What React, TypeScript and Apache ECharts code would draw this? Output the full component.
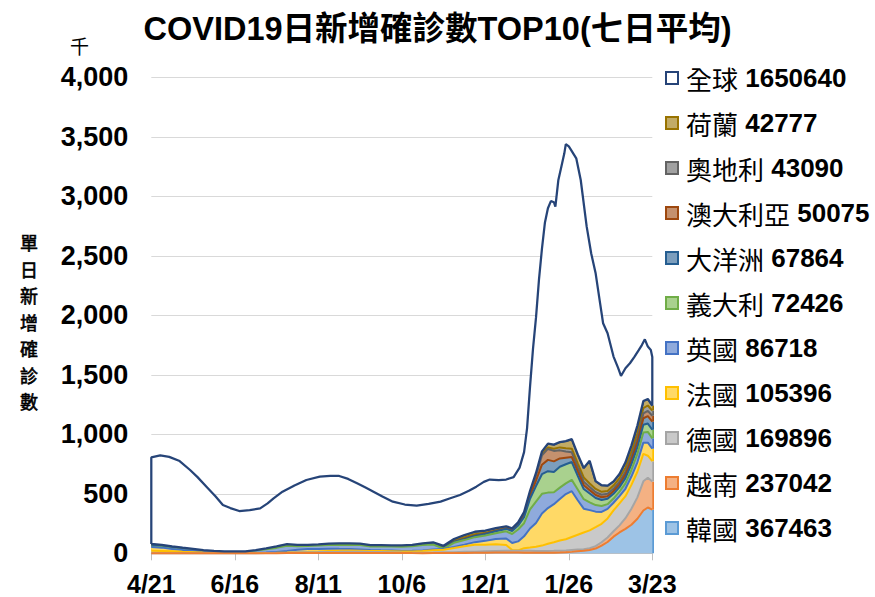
import React, { useEffect, useRef } from 'react';
import * as echarts from 'echarts';

// ---------- texts ----------
const TITLE = 'COVID19日新增確診數TOP10(七日平均)';
const Y_NAME = '單日新增確診數';
const UNIT = '千';
const xTickLabels = ['4/21', '6/16', '8/11', '10/6', '12/1', '1/26', '3/23'];
const TICK_STEP = 56; // days between x tick labels
const SPAN = 336; // days from 4/21 to 3/23

// ---------- stacked layers (thousands), sampled at these day offsets from 4/21 ----------
const days = [0, 7, 14, 21, 28, 35, 42, 49, 56, 63, 70, 77, 84, 91, 98, 105, 112, 119, 126, 133, 140, 147, 154, 161, 168, 175, 182, 189, 196, 203, 210, 217, 224, 231, 238, 242, 246, 250, 254, 258, 262, 266, 270, 274, 278, 282, 286, 290, 294, 298, 302, 306, 310, 314, 318, 322, 326, 330, 333, 336];

const korea = [0.65, 0.67, 0.6, 0.6, 0.6, 0.55, 0.6, 0.55, 0.5, 0.55, 0.7, 1.0, 1.3, 1.5, 1.6, 1.6, 1.8, 1.8, 1.7, 1.7, 1.9, 1.9, 2.2, 2.6, 2.3, 1.6, 1.2, 1.7, 2.1, 2.3, 3.0, 3.8, 4.5, 6.0, 7.0, 6.5, 6.0, 5.0, 4.5, 4.0, 3.8, 4.0, 4.5, 6.0, 8.0, 12, 17, 22, 28, 40, 65, 95, 140, 175, 205, 240, 290, 360, 385, 367];
const vietnam = [0, 0, 0, 0.05, 0.1, 0.15, 0.3, 0.3, 0.2, 0.25, 0.5, 1.0, 2.0, 4.0, 6.5, 8.0, 8.5, 10, 11, 12, 11, 10, 9, 7, 4.5, 3.5, 3.5, 4.5, 6, 7.5, 9, 10, 13, 14, 15, 15.5, 16, 16, 16, 16, 16, 16, 16, 16, 15, 15, 14, 13, 15, 20, 28, 38, 45, 60, 90, 135, 180, 245, 250, 237];
const germany = [20, 19, 16, 12, 9, 5.5, 3.5, 2.2, 1.2, 0.8, 0.7, 0.8, 1.2, 1.5, 2, 2.8, 4.5, 7, 9, 10, 9, 8, 7.5, 8, 9, 11, 15, 20, 22, 35, 48, 58, 55, 56, 48, 5, 3, 22, 28, 35, 45, 60, 72, 85, 95, 110, 125, 140, 150, 160, 155, 160, 175, 185, 185, 200, 215, 230, 185, 170];
const france = [32, 28, 20, 16, 13, 9, 6, 3.8, 3, 2.2, 2.2, 3.3, 6, 12, 20, 23, 22, 20, 16, 13, 10, 7, 6, 5, 4.5, 4.5, 4.7, 5.5, 6.5, 8.5, 13, 22, 32, 45, 55, 60, 75, 100, 160, 200, 270, 300, 320, 350, 380, 385, 290, 200, 170, 130, 100, 80, 65, 60, 62, 70, 80, 95, 110, 105];
const uk = [2.5, 2.2, 2.2, 2.2, 2.4, 2.8, 3.8, 6, 8.5, 11, 20, 28, 35, 45, 30, 26, 28, 31, 33, 35, 38, 30, 33, 34, 34, 38, 45, 42, 3, 35, 38, 42, 45, 48, 60, 75, 100, 110, 160, 180, 165, 130, 100, 95, 90, 95, 90, 80, 65, 55, 50, 40, 35, 38, 45, 55, 70, 85, 90, 87];
const italy = [13.5, 12, 10.5, 8.5, 6, 4, 2.5, 1.8, 1.2, 0.9, 0.9, 1.2, 2.5, 4, 5, 5.5, 6, 6.5, 6.5, 6, 5, 4, 3.5, 3.2, 2.8, 2.7, 2.8, 4, 5, 6, 8, 10, 13, 16, 20, 25, 33, 50, 90, 130, 165, 180, 170, 175, 160, 150, 115, 85, 75, 60, 50, 45, 40, 38, 45, 50, 55, 65, 70, 72];
const oceania = [0.03, 0.03, 0.03, 0.03, 0.03, 0.03, 0.03, 0.03, 0.03, 0.1, 0.3, 0.5, 0.7, 0.8, 1.0, 1.2, 1.3, 1.5, 1.6, 1.8, 2.0, 2.1, 2.2, 2.4, 2.5, 2.6, 2.4, 2.0, 1.8, 1.4, 1.4, 1.4, 1.6, 1.8, 2.2, 3.5, 6, 15, 25, 45, 80, 95, 90, 70, 55, 42, 37, 32, 28, 25, 23, 22, 22, 24, 28, 33, 42, 55, 62, 68];
const australia = [0.01, 0.01, 0.01, 0.01, 0.01, 0.01, 0.01, 0.01, 0.02, 0.02, 0.03, 0.05, 0.1, 0.15, 0.2, 0.3, 0.4, 0.6, 0.9, 1.2, 1.6, 1.8, 1.9, 2.1, 2.2, 2.3, 2.2, 1.8, 1.6, 1.2, 1.2, 1.2, 1.4, 1.5, 2.0, 3.2, 5.5, 14, 24, 43, 78, 92, 88, 68, 52, 40, 35, 30, 26, 23, 21, 20, 20, 22, 25, 29, 33, 40, 45, 50];
const austria = [2.5, 2.1, 1.8, 1.3, 0.9, 0.6, 0.4, 0.2, 0.1, 0.08, 0.08, 0.1, 0.15, 0.2, 0.3, 0.5, 0.7, 0.9, 1.0, 1.3, 1.5, 1.4, 1.2, 1.2, 1.5, 2.0, 3.0, 4.5, 6.5, 10, 13, 12, 8, 4.5, 3.0, 2.8, 2.5, 3, 4, 6, 9, 12, 18, 25, 28, 30, 33, 35, 30, 28, 25, 24, 27, 30, 35, 40, 43, 45, 45, 43];
const netherlands = [7.5, 7.7, 7.3, 6.5, 5, 3.5, 2.5, 1.5, 0.9, 0.6, 1.5, 6, 9.5, 7.5, 4, 2.5, 2, 2, 2, 2, 2, 2, 2, 2, 2.3, 3, 4.5, 6.5, 9, 13, 19, 21, 18, 18, 15, 14, 13, 12, 14, 16, 25, 33, 35, 45, 60, 80, 75, 80, 190, 65, 55, 45, 35, 35, 45, 55, 65, 60, 55, 43];

// ---------- global (thousands) ----------
const globalDays = [0, 3, 6, 12, 19, 26, 31, 37, 43, 48, 53, 59, 66, 73, 78, 82, 88, 96, 104, 113, 120, 126, 132, 138, 144, 149, 155, 162, 170, 178, 186, 194, 200, 207, 213, 218, 223, 227, 233, 238, 243, 247, 250, 252, 254, 256, 258, 260, 262, 264, 266, 268, 270, 271, 273, 275, 277, 278, 280, 282, 285, 288, 292, 295, 298, 301, 303, 306, 310, 313, 315, 318, 321, 324, 327, 329, 331, 333, 335, 336];
const globalValues = [806, 815, 823, 810, 775, 700, 640, 560, 480, 406, 380, 355, 362, 378, 420, 462, 518, 570, 616, 644, 650, 650, 625, 588, 550, 518, 478, 434, 410, 400, 415, 434, 460, 490, 525, 560, 600, 620, 615, 620, 640, 720, 850, 1050, 1400, 1720, 1980, 2300, 2560, 2780, 2900, 2960, 2950, 2913, 3137, 3249, 3361, 3439, 3420, 3380, 3319, 3137, 2745, 2521, 2353, 2100, 1933, 1849, 1653, 1560, 1490, 1555, 1597, 1650, 1709, 1750, 1798, 1737, 1709, 1650];

// ---------- legend ----------
const layerNames = ['韓國', '越南', '德國', '法國', '英國', '義大利', '大洋洲', '澳大利亞', '奧地利', '荷蘭']; // bottom -> top
const legendNames = ['全球', '荷蘭', '奧地利', '澳大利亞', '大洋洲', '義大利', '英國', '法國', '德國', '越南', '韓國'];
const legendValues = ['1650640', '42777', '43090', '50075', '67864', '72426', '86718', '105396', '169896', '237042', '367463'];

// ---------- styles ----------
const layerLine = ['#5b9bd5', '#ed7d31', '#a5a5a5', '#ffc000', '#4472c4', '#70ad47', '#255e91', '#9e480e', '#636363', '#997300'];
const layerFill = ['#9dc3e6', '#f4b183', '#c9c9c9', '#ffd966', '#8faadc', '#a9d18e', '#7c9ebd', '#c5916e', '#a1a1a1', '#c2ab66'];
const GLOBAL_LINE = '#264478';
const LATIN = '"Liberation Sans", Arial, "Noto Sans CJK TC", sans-serif';
const CJK = '"Noto Sans CJK TC", "Liberation Sans", sans-serif';

const DAY_MS = 86400000;
const START = Date.UTC(2021, 3, 21);
const END = START + SPAN * DAY_MS;

function buildOption() {
  const layers = [korea, vietnam, germany, france, uk, italy, oceania, australia, austria, netherlands];
  const cumulative: number[][] = [];
  let running = days.map(() => 0);
  layers.forEach((arr) => {
    running = running.map((v, j) => v + arr[j]);
    cumulative.push(running);
  });
  const stackTop = cumulative[cumulative.length - 1];
  const last = days.length - 1;

  const areaSeries = layers.map((arr, i) => {
    const below0 = i === 0 ? 0 : cumulative[i - 1][0];
    const belowN = i === 0 ? 0 : cumulative[i - 1][last];
    return {
      name: layerNames[i],
      type: 'line',
      stack: 'total',
      xAxisIndex: 0,
      yAxisIndex: 0,
      data: days.map((d, j) => [START + d * DAY_MS, arr[j]]),
      symbol: 'none',
      showSymbol: false,
      clip: false,
      silent: true,
      z: 20 - i,
      itemStyle: { color: layerLine[i] },
      lineStyle: { color: i < layers.length - 1 ? layerLine[i + 1] : GLOBAL_LINE, width: 2 },
      areaStyle: { color: layerFill[i], opacity: 1 },
      markLine: {
        silent: true,
        symbol: ['none', 'none'],
        label: { show: false },
        animation: false,
        lineStyle: { color: layerLine[i], width: 2, type: 'solid' },
        data: [
          [{ coord: [START, below0] }, { coord: [START, cumulative[i][0]] }],
          [{ coord: [END, belowN] }, { coord: [END, cumulative[i][last]] }],
        ],
      },
    };
  });

  const globalPath: number[][] = [
    [0, stackTop[0]],
    ...globalDays.map((d, i) => [d, globalValues[i]]),
    ...days.map((d, j) => [d, stackTop[j]]).reverse(),
  ];

  const globalSeries = {
    name: '全球',
    type: 'line',
    xAxisIndex: 1,
    yAxisIndex: 0,
    data: globalPath,
    symbol: 'none',
    showSymbol: false,
    clip: false,
    silent: true,
    z: 30,
    itemStyle: { color: GLOBAL_LINE },
    lineStyle: { color: GLOBAL_LINE, width: 2.25 },
    areaStyle: { color: '#ffffff', opacity: 1 },
  };

  const legendFill = ['#ffffff', ...layerFill.slice().reverse()];
  const legendBorder = [GLOBAL_LINE, ...layerLine.slice().reverse()];

  return {
    animation: false,
    backgroundColor: '#ffffff',
    title: [
      {
        text: TITLE,
        left: 'center',
        top: 8,
        textStyle: { fontSize: 32.5, fontWeight: 'bold', color: '#000', fontFamily: LATIN },
      },
      {
        text: Y_NAME.split('').join('\n'),
        left: 15,
        top: 224,
        textStyle: {
          fontSize: 18,
          lineHeight: 26.5,
          fontWeight: 'normal',
          color: '#000',
          fontFamily: CJK,
          textBorderColor: '#000',
          textBorderWidth: 0.6,
        },
      },
      {
        text: UNIT,
        left: 65,
        top: 31,
        textStyle: { fontSize: 19, fontWeight: 'normal', color: '#000', fontFamily: CJK },
      },
    ],
    legend: {
      orient: 'vertical',
      left: 660,
      top: 60,
      itemWidth: 12,
      itemHeight: 12,
      itemGap: 19,
      icon: 'rect',
      selectedMode: false,
      data: legendNames.map((n, i) => ({
        name: n,
        itemStyle: { color: legendFill[i], borderColor: legendBorder[i], borderWidth: 2 },
      })),
      formatter: (name: string) => {
        const i = legendNames.indexOf(name);
        return `{a|${name}} {b|${legendValues[i]}}`;
      },
      textStyle: {
        color: '#000',
        fontSize: 26,
        rich: {
          a: { fontSize: 26, fontFamily: CJK, color: '#000', padding: [0, 0, 0, 3] },
          b: { fontSize: 26, fontFamily: LATIN, fontWeight: 'bold', color: '#000' },
        },
      },
    },
    grid: { left: 151.3, right: 222.7, top: 77.3, bottom: 43.7, outerBoundsMode: 'none' },
    xAxis: [
      { type: 'time', min: START, max: END, show: false },
      {
        type: 'value',
        position: 'bottom',
        min: 0,
        max: SPAN,
        interval: TICK_STEP,
        axisLine: { show: true, lineStyle: { color: '#bfbfbf', width: 1 } },
        axisTick: { show: true, length: 7, lineStyle: { color: '#bfbfbf', width: 1 } },
        splitLine: { show: false },
        axisLabel: {
          margin: 19,
          fontSize: 25,
          lineHeight: 24,
          fontWeight: 'bold',
          color: '#000',
          fontFamily: LATIN,
          formatter: (v: number) => xTickLabels[Math.round(v / TICK_STEP)] ?? '',
        },
      },
    ],
    yAxis: {
      type: 'value',
      min: 0,
      max: 4000,
      interval: 500,
      axisLine: { show: false },
      axisTick: { show: false },
      splitLine: { lineStyle: { color: '#d9d9d9', width: 1 } },
      axisLabel: {
        margin: 23,
        fontSize: 27,
        fontWeight: 'bold',
        color: '#000',
        fontFamily: LATIN,
        formatter: (v: number) => v.toLocaleString('en-US'),
      },
    },
    series: [...areaSeries, globalSeries],
  };
}

export default function App() {
  const ref = useRef<HTMLDivElement>(null);
  useEffect(() => {
    if (!ref.current) return;
    const chart = echarts.init(ref.current, undefined, { renderer: 'svg' });
    chart.setOption(buildOption() as any);
    return () => chart.dispose();
  }, []);
  return (
    <div
      ref={ref}
      style={{ position: 'fixed', left: 0, top: 0, width: 875, height: 597, background: '#fff' }}
    />
  );
}
